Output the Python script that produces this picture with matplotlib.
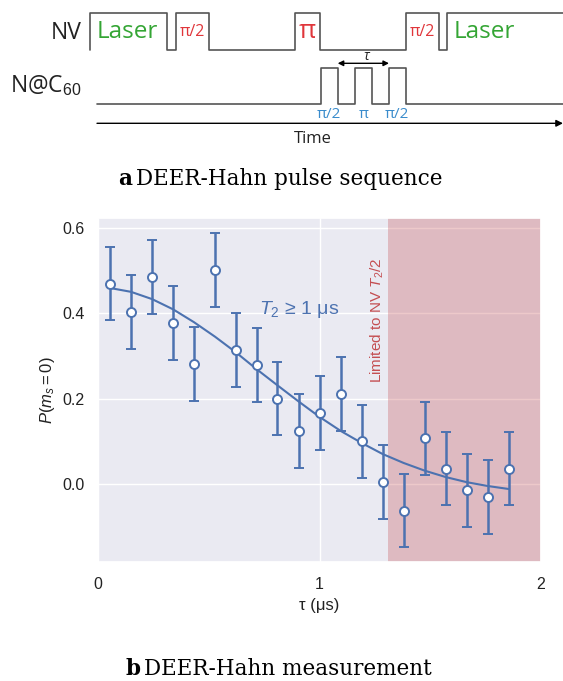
import numpy as np
import matplotlib.pyplot as plt
import seaborn as sns

# measured DEER-Hahn points
tau = [0.054, 0.149, 0.244, 0.339, 0.433, 0.528, 0.623, 0.718, 0.810, 0.906,
       1.000, 1.096, 1.190, 1.285, 1.380, 1.475, 1.570, 1.665, 1.760, 1.855]
p_ms0 = [0.469, 0.403, 0.485, 0.377, 0.281, 0.502, 0.314, 0.279, 0.200, 0.124,
         0.166, 0.211, 0.100, 0.005, -0.063, 0.107, 0.036, -0.015, -0.031, 0.036]
p_err = [0.086, 0.086, 0.086, 0.086, 0.086, 0.087, 0.086, 0.086, 0.086, 0.086,
         0.086, 0.086, 0.086, 0.087, 0.086, 0.086, 0.086, 0.086, 0.086, 0.086]
# fitted curve, read at the same tau values
fit_y = [0.459, 0.450, 0.433, 0.409, 0.379, 0.345, 0.308, 0.268, 0.231, 0.193,
         0.157, 0.124, 0.096, 0.070, 0.049, 0.031, 0.016, 0.004, -0.005, -0.012]
limit_tau = 1.308

xticks = [0, 1, 2]
yticks = [0.0, 0.2, 0.4, 0.6]

sns.set_theme(style='darkgrid')
plt.rcParams['font.family'] = ['Liberation Sans', 'DejaVu Sans']
plt.rcParams['mathtext.fontset'] = 'custom'
plt.rcParams['mathtext.rm'] = 'Liberation Sans'
plt.rcParams['mathtext.it'] = 'Liberation Sans:italic'

blue = '#4c72b0'
red = '#c44e52'

fig = plt.figure(figsize=(5.63, 6.81), dpi=100)

## pulse-sequence diagram, drawn in pixel coordinates ##
dg = fig.add_axes([0, 0, 1, 1])
dg.set_xlim(0, 563)
dg.set_ylim(681, 0)
dg.axis('off')
dg.patch.set_alpha(0)

lc = '#555555'
nv_x = [90, 90, 166.7, 166.7, 175.7, 175.7, 209.3, 209.3, 295, 295, 320, 320,
        405.7, 405.7, 439.3, 439.3, 447.3, 447.3, 563]
nv_y = [50, 13, 13, 50, 50, 13, 13, 50, 50, 13, 13, 50, 50, 13, 13, 50, 50, 13, 13]
dg.plot(nv_x, nv_y, color=lc, lw=1.2)

c60_x = [97, 320.7, 320.7, 337.7, 337.7, 355, 355, 371.7, 371.7, 389, 389,
         405.7, 405.7, 563]
c60_y = [104.3, 104.3, 68.3, 68.3, 104.3, 104.3, 68.3, 68.3, 104.3, 104.3,
         68.3, 68.3, 104.3, 104.3]
dg.plot(c60_x, c60_y, color=lc, lw=1.2)

dg.annotate('', xy=(563, 123.3), xytext=(97, 123.3),
            arrowprops=dict(arrowstyle='-|>', color='black', lw=1.0,
                            mutation_scale=10, shrinkA=0, shrinkB=0))
dg.annotate('', xy=(389, 63.3), xytext=(337.7, 63.3),
            arrowprops=dict(arrowstyle='<|-|>', color='black', lw=1.0,
                            mutation_scale=8, shrinkA=0, shrinkB=0))

sf = 'Open Sans'
green = '#34a534'
pred = '#e0363b'
pblue = '#3a8ccc'
dg.text(82, 33, 'NV', ha='right', va='center', fontsize=16.5, family=sf, color='#222222')
dg.text(82, 86, 'N@C$_{60}$', ha='right', va='center', fontsize=16.5, family=sf, color='#222222')
dg.text(127.5, 32, 'Laser', ha='center', va='center', fontsize=17.5, family=sf, color=green)
dg.text(484, 32, 'Laser', ha='center', va='center', fontsize=17.5, family=sf, color=green)
dg.text(192.5, 32, 'π/2', ha='center', va='center', fontsize=11.5, family=sf, color=pred)
dg.text(307.5, 31, 'π', ha='center', va='center', fontsize=19, family=sf, color=pred)
dg.text(422.5, 32, 'π/2', ha='center', va='center', fontsize=11.5, family=sf, color=pred)
dg.text(329, 115, 'π/2', ha='center', va='center', fontsize=11, family=sf, color=pblue)
dg.text(363.3, 115, 'π', ha='center', va='center', fontsize=11, family=sf, color=pblue)
dg.text(397, 115, 'π/2', ha='center', va='center', fontsize=11, family=sf, color=pblue)
dg.text(366.7, 56, 'τ', ha='center', va='center', fontsize=10, family=sf,
        style='italic', color='#222222')
dg.text(313, 139, 'Time', ha='center', va='center', fontsize=12, family=sf, color='#222222')

cf = ['DejaVu Serif']
dg.text(118, 179, 'a', ha='left', va='center', fontsize=15.5, family=cf,
        fontweight='bold', color='black')
dg.text(136, 179, 'DEER-Hahn pulse sequence', ha='left', va='center',
        fontsize=15.5, family=cf, color='black')
dg.text(125, 669, 'b', ha='left', va='center', fontsize=15.5, family=cf,
        fontweight='bold', color='black')
dg.text(144, 669, 'DEER-Hahn measurement', ha='left', va='center',
        fontsize=15.5, family=cf, color='black')

## measurement plot ##
ax = fig.add_axes([98 / 563, 1 - 562 / 681, 443 / 563, 344 / 681])
ax.axvspan(limit_tau, 2, color=red, alpha=0.3, lw=0, zorder=1)
ax.plot(tau, fit_y, color=blue, lw=1.5, zorder=2)
ax.errorbar(tau, p_ms0, yerr=p_err, fmt='o', color=blue, ecolor=blue,
            elinewidth=1.8, capsize=3.6, capthick=1.8, markersize=6.5,
            markerfacecolor='white', markeredgecolor=blue, markeredgewidth=1.4,
            zorder=3)

ax.text(0.909, 0.408, r'$T_2$ ≥ 1 μs', color=blue, fontsize=14,
        ha='center', va='center')
ax.text(limit_tau - 0.01, 0.237, r'Limited to NV $T_2$/2', color=red,
        fontsize=11, rotation=90, ha='right', va='bottom')

ax.set_xlim(0, 2)
ax.set_ylim(-0.183, 0.623)
ax.set_xticks(xticks)
ax.set_xticklabels([str(t) for t in xticks])
ax.set_yticks(yticks)
ax.set_yticklabels(['%.1f' % t for t in yticks])
ax.tick_params(labelsize=11.5, colors='#222222')
ax.tick_params(axis='x', pad=5)
ax.set_xlabel('τ (μs)', fontsize=12, color='#222222', labelpad=4)
ax.set_ylabel(r'$P(m_s = 0)$', fontsize=12, color='#222222')

fig.savefig('out.png', dpi=100)
